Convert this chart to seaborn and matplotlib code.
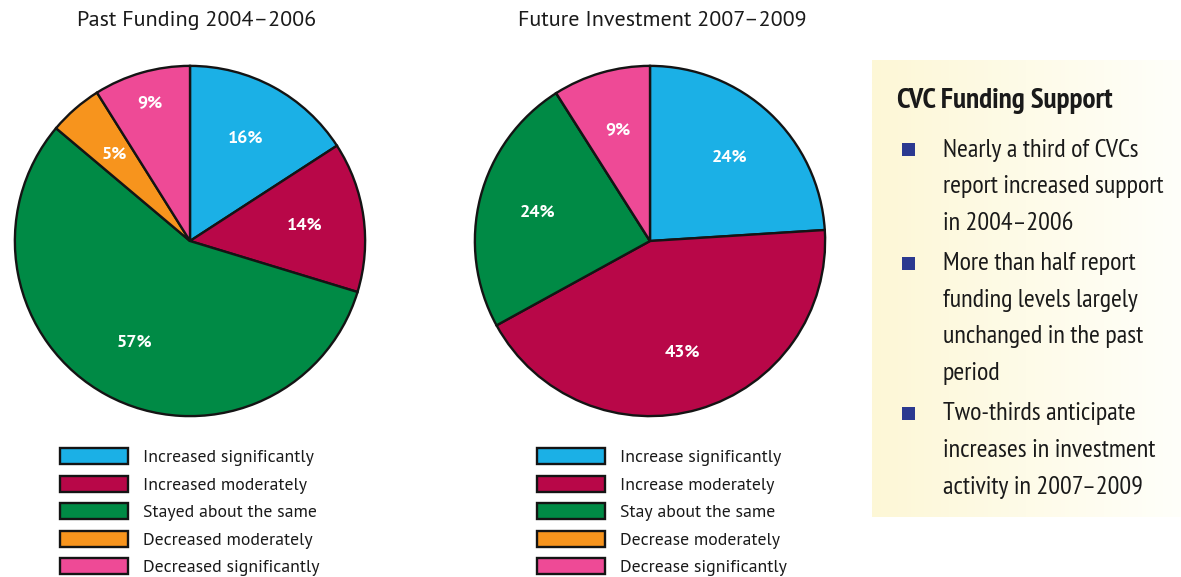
import numpy as np
import matplotlib
matplotlib.use("Agg")
import matplotlib.pyplot as plt
from matplotlib.colors import LinearSegmentedColormap
from matplotlib.patches import Rectangle
import seaborn as sns

# --- data ---------------------------------------------------------------
past_title = "Past Funding 2004–2006"
future_title = "Future Investment 2007–2009"
past_labels = ["Increased significantly", "Increased moderately", "Stayed about the same",
               "Decreased moderately", "Decreased significantly"]
future_labels = ["Increase significantly", "Increase moderately", "Stay about the same",
                 "Decrease moderately", "Decrease significantly"]
past_values = [16, 14, 57, 5, 9]
future_values = [24, 43, 24, 0, 9]
slice_colors = ["#1bb0e6", "#b80748", "#008a45", "#f7941d", "#ee4a96"]

box_heading = "CVC Funding Support"
box_points = [
    ["Nearly a third of CVCs", "report increased support", "in 2004–2006"],
    ["More than half report", "funding levels largely", "unchanged in the past", "period"],
    ["Two-thirds anticipate", "increases in investment", "activity in 2007–2009"],
]

# --- style --------------------------------------------------------------
sns.set_theme(style="white")
regular = ["PT Sans", "Open Sans", "DejaVu Sans"]
narrow = ["PT Sans Narrow", "Fira Sans Condensed", "Roboto Condensed", "Archivo Narrow", "DejaVu Sans"]
plt.rcParams["font.family"] = regular

W, H = 1181, 577
fig = plt.figure(figsize=(W / 100, H / 100), dpi=100)
fig.patch.set_facecolor("white")


def px_axes(x0, y0, w, h):
    """Axes placed by pixel box (top-left origin)."""
    return fig.add_axes([x0 / W, (H - y0 - h) / H, w / W, h / H])


def draw_pie(cx, cy, r, values, labels, title, title_x, legend_x, far_label=None):
    ax = px_axes(cx - r, cy - r, 2 * r, 2 * r)
    total = sum(values)
    wedges, _, autotexts = ax.pie(
        values, colors=slice_colors, startangle=90, counterclock=False,
        radius=1, pctdistance=0.66,
        autopct=lambda p: "" if p < 0.5 else f"{round(p * total / 100)}%",
        wedgeprops=dict(edgecolor="#141414", linewidth=1.7),
        textprops=dict(color="white", fontsize=13, fontweight="bold"),
    )
    if far_label is not None:
        idx, dist = far_label
        x, y = autotexts[idx].get_position()
        autotexts[idx].set_position((x * dist / 0.66, y * dist / 0.66))
    ax.set_xlim(-1.005, 1.005)
    ax.set_ylim(-1.005, 1.005)
    ax.set_aspect("equal")
    ax.axis("off")
    fig.text(title_x / W, 1 - 20 / H, title, ha="center", va="center", fontsize=15.8, color="#1a1a1a")

    fs = 12.8
    fpx = fs * 100 / 72
    ax.legend(
        wedges, labels, loc="upper left",
        bbox_to_anchor=(legend_x / W, 1 - 448 / H), bbox_transform=fig.transFigure,
        frameon=False, fontsize=fs, borderpad=0, borderaxespad=0,
        handlelength=68 / fpx, handleheight=18 / fpx,
        labelspacing=(27.4 - 18) / fpx, handletextpad=15 / fpx,
        labelcolor="#1a1a1a",
    )
    return ax


draw_pie(190, 241, 176, past_values, past_labels, past_title, 197, 60, far_label=(4, 0.82))
draw_pie(650, 241, 176, future_values, future_labels, future_title, 662, 537)

# --- side panel ---------------------------------------------------------
bx = px_axes(872, 60, W - 872, 457)
grad = LinearSegmentedColormap.from_list("panel", ["#fdf7d6", "#fefbe8", "#fffffa"])
bx.imshow(np.linspace(0, 1, 256)[None, :], cmap=grad, aspect="auto", extent=(0, 1, 0, 1))
bx.set_xlim(0, 1)
bx.set_ylim(0, 1)
bx.axis("off")

fig.text(897 / W, 1 - 101 / H, box_heading, ha="left", va="center", fontsize=21,
         fontweight="bold", family=narrow, color="#1a1a1a")

line_gap = 36.8
y = 150
for group in box_points:
    fig.patches.append(Rectangle((902 / W, 1 - (y + 6.5) / H), 13 / W, 13 / H,
                                 transform=fig.transFigure, facecolor="#2b3990",
                                 edgecolor="none"))
    for line in group:
        fig.text(943 / W, 1 - y / H, line, ha="left", va="center", fontsize=18.8,
                 family=narrow, color="#1a1a1a")
        y += line_gap
    y += 3

fig.savefig("out.png", dpi=100, facecolor="white")
